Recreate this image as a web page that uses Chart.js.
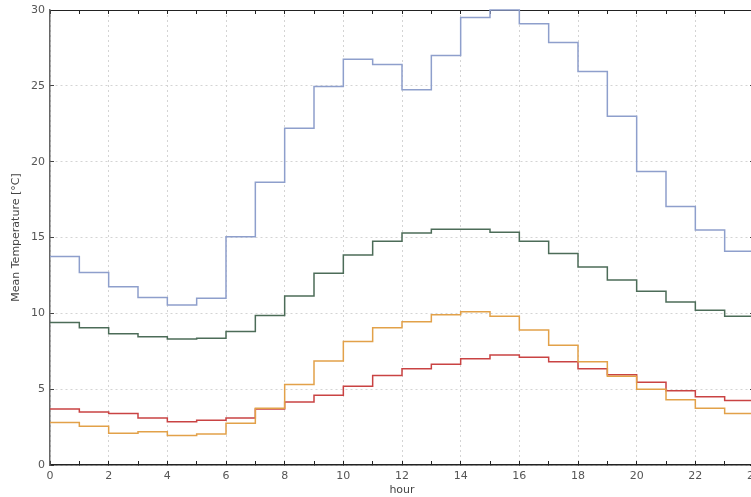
<!DOCTYPE html>
<html>
<head>
<meta charset="utf-8">
<script src="https://cdn.jsdelivr.net/npm/chart.js@4/dist/chart.umd.min.js"></script>
<style>
  html, body { margin: 0; padding: 0; background: #fff; overflow: hidden; }
  #wrap { position: absolute; left: 0; top: 0; }
</style>
</head>
<body>
<div id="wrap"><canvas id="tempChart" width="757" height="497"></canvas></div>
<script>
// hours of the day (step edges), one value per hour 0..23
const hours = [0, 1, 2, 3, 4, 5, 6, 7, 8, 9, 10, 11, 12, 13, 14, 15, 16, 17, 18, 19, 20, 21, 22, 23, 24];
const yTicks = [0, 5, 10, 15, 20, 25, 30];

const blueTemps   = [13.75, 12.7, 11.75, 11.05, 10.55, 11.0, 15.05, 18.65, 22.2, 24.95, 26.75, 26.4,
                     24.75, 27.0, 29.5, 30.0, 29.1, 27.85, 25.95, 23.0, 19.35, 17.05, 15.5, 14.1];
const greenTemps  = [9.4, 9.05, 8.65, 8.45, 8.3, 8.35, 8.8, 9.85, 11.15, 12.65, 13.85, 14.75,
                     15.3, 15.55, 15.55, 15.35, 14.75, 13.95, 13.05, 12.2, 11.45, 10.75, 10.2, 9.8];
const orangeTemps = [2.8, 2.55, 2.1, 2.2, 1.95, 2.05, 2.75, 3.75, 5.3, 6.85, 8.15, 9.05,
                     9.45, 9.9, 10.1, 9.8, 8.9, 7.9, 6.8, 5.85, 5.0, 4.3, 3.75, 3.4];
const redTemps    = [3.7, 3.5, 3.4, 3.1, 2.85, 2.95, 3.1, 3.7, 4.15, 4.6, 5.2, 5.9,
                     6.35, 6.65, 7.0, 7.25, 7.1, 6.8, 6.35, 5.95, 5.45, 4.9, 4.5, 4.25];

// each hour's value holds until the next hour, so the last one is repeated at 24
const stepData = (vals) => hours.map((h, i) => ({ x: h, y: vals[Math.min(i, vals.length - 1)] }));

const series = [
    { label: "blue",   data: blueTemps,   color: "#8e9fcc" },
    { label: "green",  data: greenTemps,  color: "#4c6c58" },
    { label: "orange", data: orangeTemps, color: "#e2a149" },
    { label: "red",    data: redTemps,    color: "#c94343" }
];

const font = { family: "'DejaVu Sans', sans-serif", size: 11 };
const gridGray = "#d4d4d4";

// keep the plot box where the reference has it (no extra room for edge labels)
const noEdgePad = (scale) => {
    scale.paddingLeft = 0;
    scale.paddingRight = 0;
    scale.paddingTop = 0;
    scale.paddingBottom = 0;
};

const ctx = document.getElementById("tempChart").getContext("2d");
new Chart(ctx, {
    type: "line",
    data: {
        datasets: series.map(s => ({
            label: s.label,
            data: stepData(s.data),
            borderColor: s.color,
            borderWidth: 1.5,
            pointRadius: 0,
            stepped: true,
            fill: false,
            clip: false
        }))
    },
    options: {
        responsive: false,
        animation: false,
        layout: { padding: { left: 10, right: 3, top: 10, bottom: 0 } },
        plugins: {
            legend: { display: false },
            tooltip: { enabled: false }
        },
        scales: {
            x: {
                type: "linear",
                position: "bottom",
                min: 0,
                max: 24,
                afterBuildTicks: (scale) => { scale.ticks = hours.map(h => ({ value: h })); },
                afterFit: (scale) => { scale.height = 32; noEdgePad(scale); },
                ticks: {
                    autoSkip: false,
                    maxRotation: 0,
                    padding: 9,
                    color: "#555",
                    font: font,
                    callback: (v) => (v % 2 === 0 ? String(v) : "")
                },
                grid: {
                    color: (c) => (c.tick && c.tick.value % 2 === 0 ? gridGray : "rgba(0,0,0,0)"),
                    tickColor: "#222",
                    tickLength: -4,
                    lineWidth: 1
                },
                border: { color: "#222", width: 1.5, dash: [2, 3] },
                title: {
                    display: true,
                    text: "hour",
                    color: "#444",
                    font: font,
                    padding: { top: 0, bottom: 0 }
                }
            },
            xTop: {
                type: "linear",
                position: "top",
                min: 0,
                max: 24,
                afterBuildTicks: (scale) => { scale.ticks = hours.map(h => ({ value: h })); },
                afterFit: (scale) => { scale.height = 0; noEdgePad(scale); },
                ticks: { display: false },
                grid: { drawOnChartArea: false, tickColor: "#222", tickLength: -4 },
                border: { color: "#222", width: 1 }
            },
            y: {
                position: "left",
                min: 0,
                max: 30,
                afterBuildTicks: (scale) => { scale.ticks = yTicks.map(v => ({ value: v })); },
                afterFit: (scale) => { scale.width = 40; noEdgePad(scale); },
                ticks: { padding: 9, color: "#555", font: font },
                grid: { color: gridGray, tickColor: "#444", tickLength: -4 },
                border: { color: "#666", width: 1.5, dash: [2, 3] },
                title: {
                    display: true,
                    text: "Mean Temperature [°C]",
                    color: "#444",
                    font: font,
                    padding: { top: 0, bottom: 2 }
                }
            },
            yRight: {
                position: "right",
                min: 0,
                max: 30,
                afterBuildTicks: (scale) => { scale.ticks = yTicks.map(v => ({ value: v })); },
                afterFit: (scale) => { scale.width = 0; noEdgePad(scale); },
                ticks: { display: false },
                grid: { drawOnChartArea: false, tickColor: "#444", tickLength: -4 },
                border: { color: "#444", width: 1 }
            }
        }
    }
});
</script>
</body>
</html>
